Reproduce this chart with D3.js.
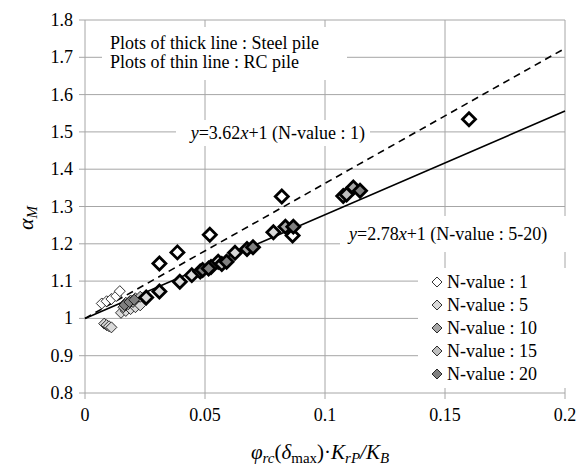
<!DOCTYPE html>
<html>
<head>
<meta charset="utf-8">
<script src="https://cdn.jsdelivr.net/npm/d3@7"></script>
<style>
  body { margin: 0; background: #fff; }
</style>
</head>
<body>
<svg id="chart" width="576" height="468" font-family="'Liberation Serif', 'DejaVu Serif', serif"></svg>
<script>
// tick values
var xTicks = [0, 0.05, 0.1, 0.15, 0.2];
var yTicks = [0.8, 0.9, 1, 1.1, 1.2, 1.3, 1.4, 1.5, 1.6, 1.7, 1.8];

// series (thick = steel pile, thin = RC pile)
var seriesNames = ['N-value : 1', 'N-value : 5', 'N-value : 10', 'N-value : 15', 'N-value : 20'];
var seriesFill = ['#ffffff', '#d9d9d9', '#a6a6a6', '#bfbfbf', '#808080'];

var n1Steel = [[0.031, 1.147], [0.0385, 1.177], [0.052, 1.224], [0.082, 1.327], [0.160, 1.534], [0.0865, 1.222]];
var n1RC = [[0.007, 1.040], [0.009, 1.046], [0.011, 1.052], [0.013, 1.060], [0.0145, 1.073]];
var n5Steel = [[0.0255, 1.056], [0.031, 1.072], [0.0395, 1.098], [0.0445, 1.116], [0.0555, 1.152], [0.0625, 1.176], [0.0785, 1.231], [0.1076, 1.328]];
var n5RC = [[0.008, 0.986], [0.009, 0.982], [0.010, 0.979], [0.011, 0.976], [0.015, 1.015], [0.017, 1.020], [0.019, 1.025], [0.021, 1.030], [0.023, 1.035]];
var n10Steel = [[0.048, 1.126], [0.0675, 1.186], [0.0835, 1.246], [0.1118, 1.351]];
var n10RC = [[0.016, 1.030], [0.018, 1.038], [0.020, 1.044]];
var n15Steel = [[0.0525, 1.138], [0.057, 1.146], [0.109, 1.332]];
var n15RC = [[0.017, 1.042], [0.019, 1.048], [0.021, 1.054], [0.023, 1.058]];
var n20Steel = [[0.049, 1.130], [0.0515, 1.134], [0.059, 1.152], [0.070, 1.191], [0.0868, 1.246], [0.1146, 1.342]];
var n20RC = [[0.0165, 1.036], [0.0185, 1.044], [0.0205, 1.050]];

// regression lines y = a*x + 1
var fitSlopes = [3.62, 2.78];

var svg = d3.select('#chart');
var x = d3.scaleLinear().domain([0, 0.2]).range([85, 565]);
var y = d3.scaleLinear().domain([0.8, 1.8]).range([393, 20]);

// grid
svg.append('g').selectAll('line').data(yTicks).enter().append('line')
  .attr('x1', 79).attr('x2', x(0.2))
  .attr('y1', function(d){ return y(d); }).attr('y2', function(d){ return y(d); })
  .attr('stroke', '#a6a6a6').attr('stroke-width', 1);
svg.append('g').selectAll('line').data(xTicks).enter().append('line')
  .attr('x1', function(d){ return x(d); }).attr('x2', function(d){ return x(d); })
  .attr('y1', y(1.8)).attr('y2', 399)
  .attr('stroke', '#a6a6a6').attr('stroke-width', 1);

// tick labels
svg.append('g').selectAll('text').data(yTicks).enter().append('text')
  .attr('x', 73).attr('y', function(d){ return y(d) + 6; })
  .attr('text-anchor', 'end').style('font-size', '18px')
  .text(function(d){ return d3.format('')(d); });
svg.append('g').selectAll('text').data(xTicks).enter().append('text')
  .attr('x', function(d){ return x(d); }).attr('y', 421)
  .attr('text-anchor', 'middle').style('font-size', '18px')
  .text(function(d){ return d3.format('')(d); });

// white label boxes (hide grid behind text)
var boxes = [[102, 27, 245, 53], [176, 120, 194, 26], [340, 216, 226, 36], [418, 268, 148, 120]];
svg.append('g').selectAll('rect').data(boxes).enter().append('rect')
  .attr('x', function(d){ return d[0]; }).attr('y', function(d){ return d[1]; })
  .attr('width', function(d){ return d[2]; }).attr('height', function(d){ return d[3]; })
  .attr('fill', '#fff');

// fit lines
var line = d3.line().x(function(d){ return x(d[0]); }).y(function(d){ return y(d[1]); });
fitSlopes.forEach(function(a, i){
  svg.append('path')
    .attr('d', line([[0, 1], [0.2, 1 + a * 0.2]]))
    .attr('fill', 'none').attr('stroke', '#000').attr('stroke-width', 1.6)
    .attr('stroke-dasharray', i == 0 ? '7,5' : null);
});

// points
var diamond = function(r){ return 'M0,' + (-r) + 'L' + r + ',0L0,' + r + 'L' + (-r) + ',0Z'; };
var groups = [
  [n1RC, 0, false], [n5RC, 1, false], [n10RC, 2, false], [n15RC, 3, false], [n20RC, 4, false],
  [n1Steel, 0, true], [n5Steel, 1, true], [n10Steel, 2, true], [n15Steel, 3, true], [n20Steel, 4, true]
];
groups.forEach(function(g){
  svg.append('g').selectAll('path').data(g[0]).enter().append('path')
    .attr('transform', function(d){ return 'translate(' + x(d[0]) + ',' + y(d[1]) + ')'; })
    .attr('d', diamond(g[2] ? 6.5 : 5.5))
    .attr('fill', seriesFill[g[1]])
    .attr('stroke', '#000').attr('stroke-width', g[2] ? 2.8 : 0.8);
});

// annotations
svg.append('text').attr('x', 110).attr('y', 49).style('font-size', '18px').text('Plots of thick line : Steel pile');
svg.append('text').attr('x', 110).attr('y', 68).style('font-size', '18px').text('Plots of thin line : RC pile');

var eq1 = svg.append('text').attr('x', 365).attr('y', 139).attr('text-anchor', 'end').style('font-size', '18px');
eq1.append('tspan').style('font-style', 'italic').text('y');
eq1.append('tspan').text('=3.62');
eq1.append('tspan').style('font-style', 'italic').text('x');
eq1.append('tspan').text('+1 (N-value : 1)');

var eq2 = svg.append('text').attr('x', 349).attr('y', 240).style('font-size', '18px');
eq2.append('tspan').style('font-style', 'italic').text('y');
eq2.append('tspan').text('=2.78');
eq2.append('tspan').style('font-style', 'italic').text('x');
eq2.append('tspan').text('+1 (N-value : 5-20)');

// legend
var leg = svg.append('g').selectAll('g').data(seriesNames).enter().append('g')
  .attr('transform', function(d, i){ return 'translate(437,' + (282 + i * 23) + ')'; });
leg.append('path').attr('d', diamond(5)).attr('fill', function(d, i){ return seriesFill[i]; })
  .attr('stroke', '#000').attr('stroke-width', 0.8);
leg.append('text').attr('x', 10).attr('y', 6).style('font-size', '18px').text(function(d){ return d; });

// axis titles
var xt = svg.append('text').attr('x', 320).attr('y', 459).attr('text-anchor', 'middle').style('font-size', '21px');
xt.append('tspan').style('font-style', 'italic').text('φ');
xt.append('tspan').style('font-style', 'italic').style('font-size', '15px').attr('dy', 4).text('rc');
xt.append('tspan').attr('dy', -4).text('(');
xt.append('tspan').style('font-style', 'italic').text('δ');
xt.append('tspan').style('font-size', '15px').attr('dy', 4).text('max');
xt.append('tspan').attr('dy', -4).text(')·');
xt.append('tspan').style('font-style', 'italic').text('K');
xt.append('tspan').style('font-style', 'italic').style('font-size', '15px').attr('dy', 4).text('rP');
xt.append('tspan').style('font-style', 'italic').attr('dy', -4).text('/K');
xt.append('tspan').style('font-style', 'italic').style('font-size', '15px').attr('dy', 4).text('B');

var yt = svg.append('text').attr('transform', 'translate(33,218) rotate(-90)').attr('text-anchor', 'middle').style('font-size', '22px');
yt.append('tspan').style('font-style', 'italic').text('α');
yt.append('tspan').style('font-style', 'italic').style('font-size', '15px').attr('dy', 4).text('M');
</script>
</body>
</html>
